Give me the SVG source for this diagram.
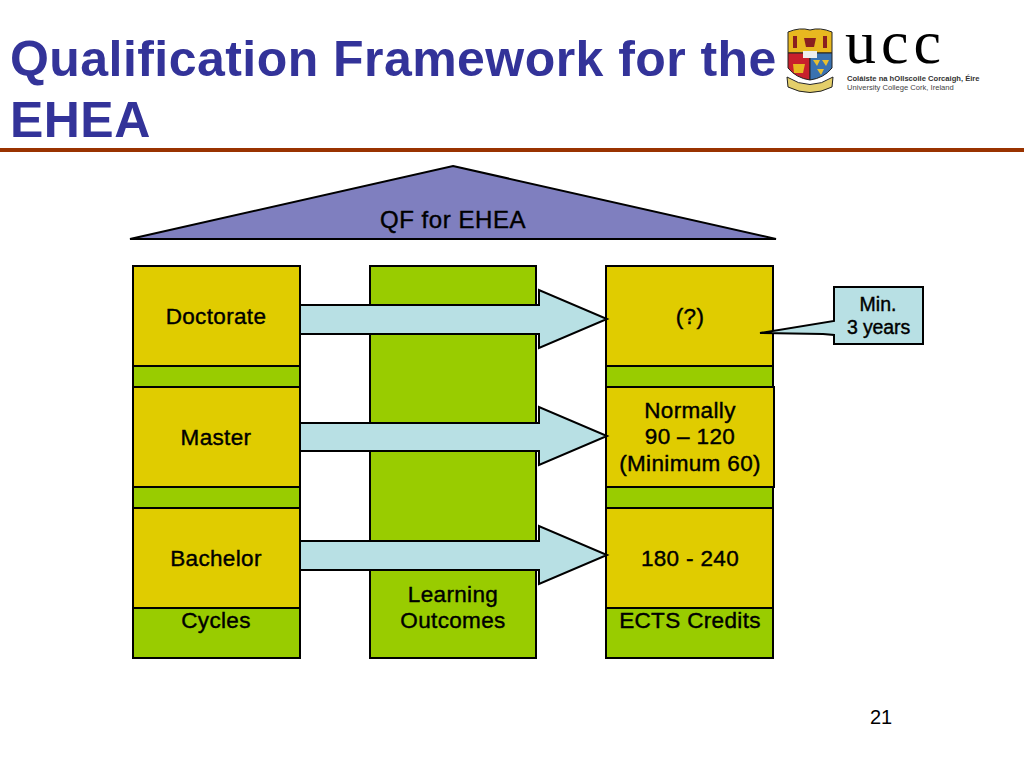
<svg xmlns="http://www.w3.org/2000/svg" width="1024" height="768" viewBox="0 0 1024 768">
<style>
text{font-family:"Liberation Sans",Arial,sans-serif;fill:#000;font-size:22.5px;letter-spacing:.35px;text-anchor:middle;stroke:#000;stroke-width:.4px}
.t{font-size:50px;font-weight:bold;text-anchor:start;fill:#333399;stroke:none;letter-spacing:.45px}
.g{fill:#99cc00;stroke:#000;stroke-width:2}
.y{fill:#e0cc00;stroke:#000;stroke-width:2}
.a{fill:#b8e0e4;stroke:#000;stroke-width:2}
</style>
<rect width="1024" height="768" fill="#fff"/>
<g id="title"><text class="t" x="10" y="76">Qualification Framework for the</text>
<text class="t" x="10" y="137">EHEA</text>
<rect x="0" y="148" width="1024" height="4" fill="#993300"/></g>
<g id="logo">
<path d="M788 32 Q800 27 810 30 Q820 27 832 32 L832 53 L788 53Z" fill="#e8b820" stroke="#222" stroke-width="1"/>
<path d="M788 53 L810 53 L810 80 Q796 78 788 68Z" fill="#c8202c" stroke="#222" stroke-width="1"/>
<path d="M810 53 L832 53 L832 68 Q824 78 810 80Z" fill="#3a72b0" stroke="#222" stroke-width="1"/>
<rect x="803" y="51" width="14" height="7" fill="#eee"/>
<path d="M793 36h4v12h-4zM823 36h4v12h-4z" fill="#8a1f1f"/>
<path d="M804 38h12l-2 9h-8z" fill="#8a1f1f"/>
<path d="M793 64h12l-2 9h-9z" fill="#e8b820"/>
<path d="M813 60h7l-3 6zM822 60h7l-3 6zM817 69h7l-3 6z" fill="#e8c030"/>
<path d="M787 77 Q810 92 833 77 L832 87 Q810 98 788 87Z" fill="#e4cf6a" stroke="#222" stroke-width="1"/>
<text x="845" y="63" style="font-family:'Liberation Serif',serif;font-size:62px;stroke-width:0;letter-spacing:5px;text-anchor:start">ucc</text>
<text x="847" y="81" style="font-size:7.6px;font-weight:bold;stroke-width:0;letter-spacing:0;fill:#333;text-anchor:start">Coláiste na hOllscoile Corcaigh, Éire</text>
<text x="847" y="90" style="font-size:7.6px;stroke-width:0;letter-spacing:0;fill:#444;text-anchor:start">University College Cork, Ireland</text>
</g>
<g id="roof"><polygon points="453,166 776,239 130,239" fill="#7f7fbf" stroke="#000" stroke-width="2"/><text x="453" y="228" style="font-size:24px;letter-spacing:.55px">QF for EHEA</text></g>
<g id="col1"><rect class="g" x="133" y="266" width="167" height="392"/></g>
<g id="col2"><rect class="g" x="370" y="266" width="166" height="392"/><text x="453" y="602">Learning</text><text x="453" y="628">Outcomes</text></g>
<g id="col3"><rect class="g" x="606" y="266" width="167" height="392"/></g>
<g id="doctorate"><rect class="y" x="133" y="266" width="167" height="100"/><text x="216" y="324">Doctorate</text></g>
<g id="master"><rect class="y" x="133" y="387" width="167" height="100"/><text x="216" y="445">Master</text></g>
<g id="bachelor"><rect class="y" x="133" y="508" width="167" height="100"/><text x="216" y="566">Bachelor</text></g>
<g id="cycles"><text x="216" y="628">Cycles</text></g>
<g id="d3"><rect class="y" x="606" y="266" width="167" height="100"/><text x="690" y="324">(?)</text></g>
<g id="m3"><rect class="y" x="606" y="387" width="168" height="100"/><text x="690" y="418">Normally</text><text x="690" y="444">90 – 120</text><text x="690" y="471">(Minimum 60)</text></g>
<g id="b3"><rect class="y" x="606" y="508" width="167" height="100"/><text x="690" y="566">180 - 240</text></g>
<g id="ects"><text x="690" y="628">ECTS Credits</text></g>
<g id="connectors">
<polygon class="a" points="300,305 539,305 539,290 607,319 539,348 539,334 300,334"/>
<polygon class="a" points="300,423 539,423 539,407 607,436 539,465 539,451 300,451"/>
<polygon class="a" points="300,541 539,541 539,526 607,555 539,584 539,570 300,570"/>
</g>
<g id="callout"><polygon points="834,287 923,287 923,344 834,344 834,335 823,334 760,333 834,321" fill="#b8e0e4" stroke="#000" stroke-width="2"/><text x="878" y="311" style="font-size:19.5px;letter-spacing:0">Min.</text><text x="878.5" y="334" style="font-size:19.5px;letter-spacing:-.1px">3 years</text></g>
<g id="page"><text x="881" y="724" style="font-size:20px;letter-spacing:0;stroke-width:0">21</text></g>
</svg>
